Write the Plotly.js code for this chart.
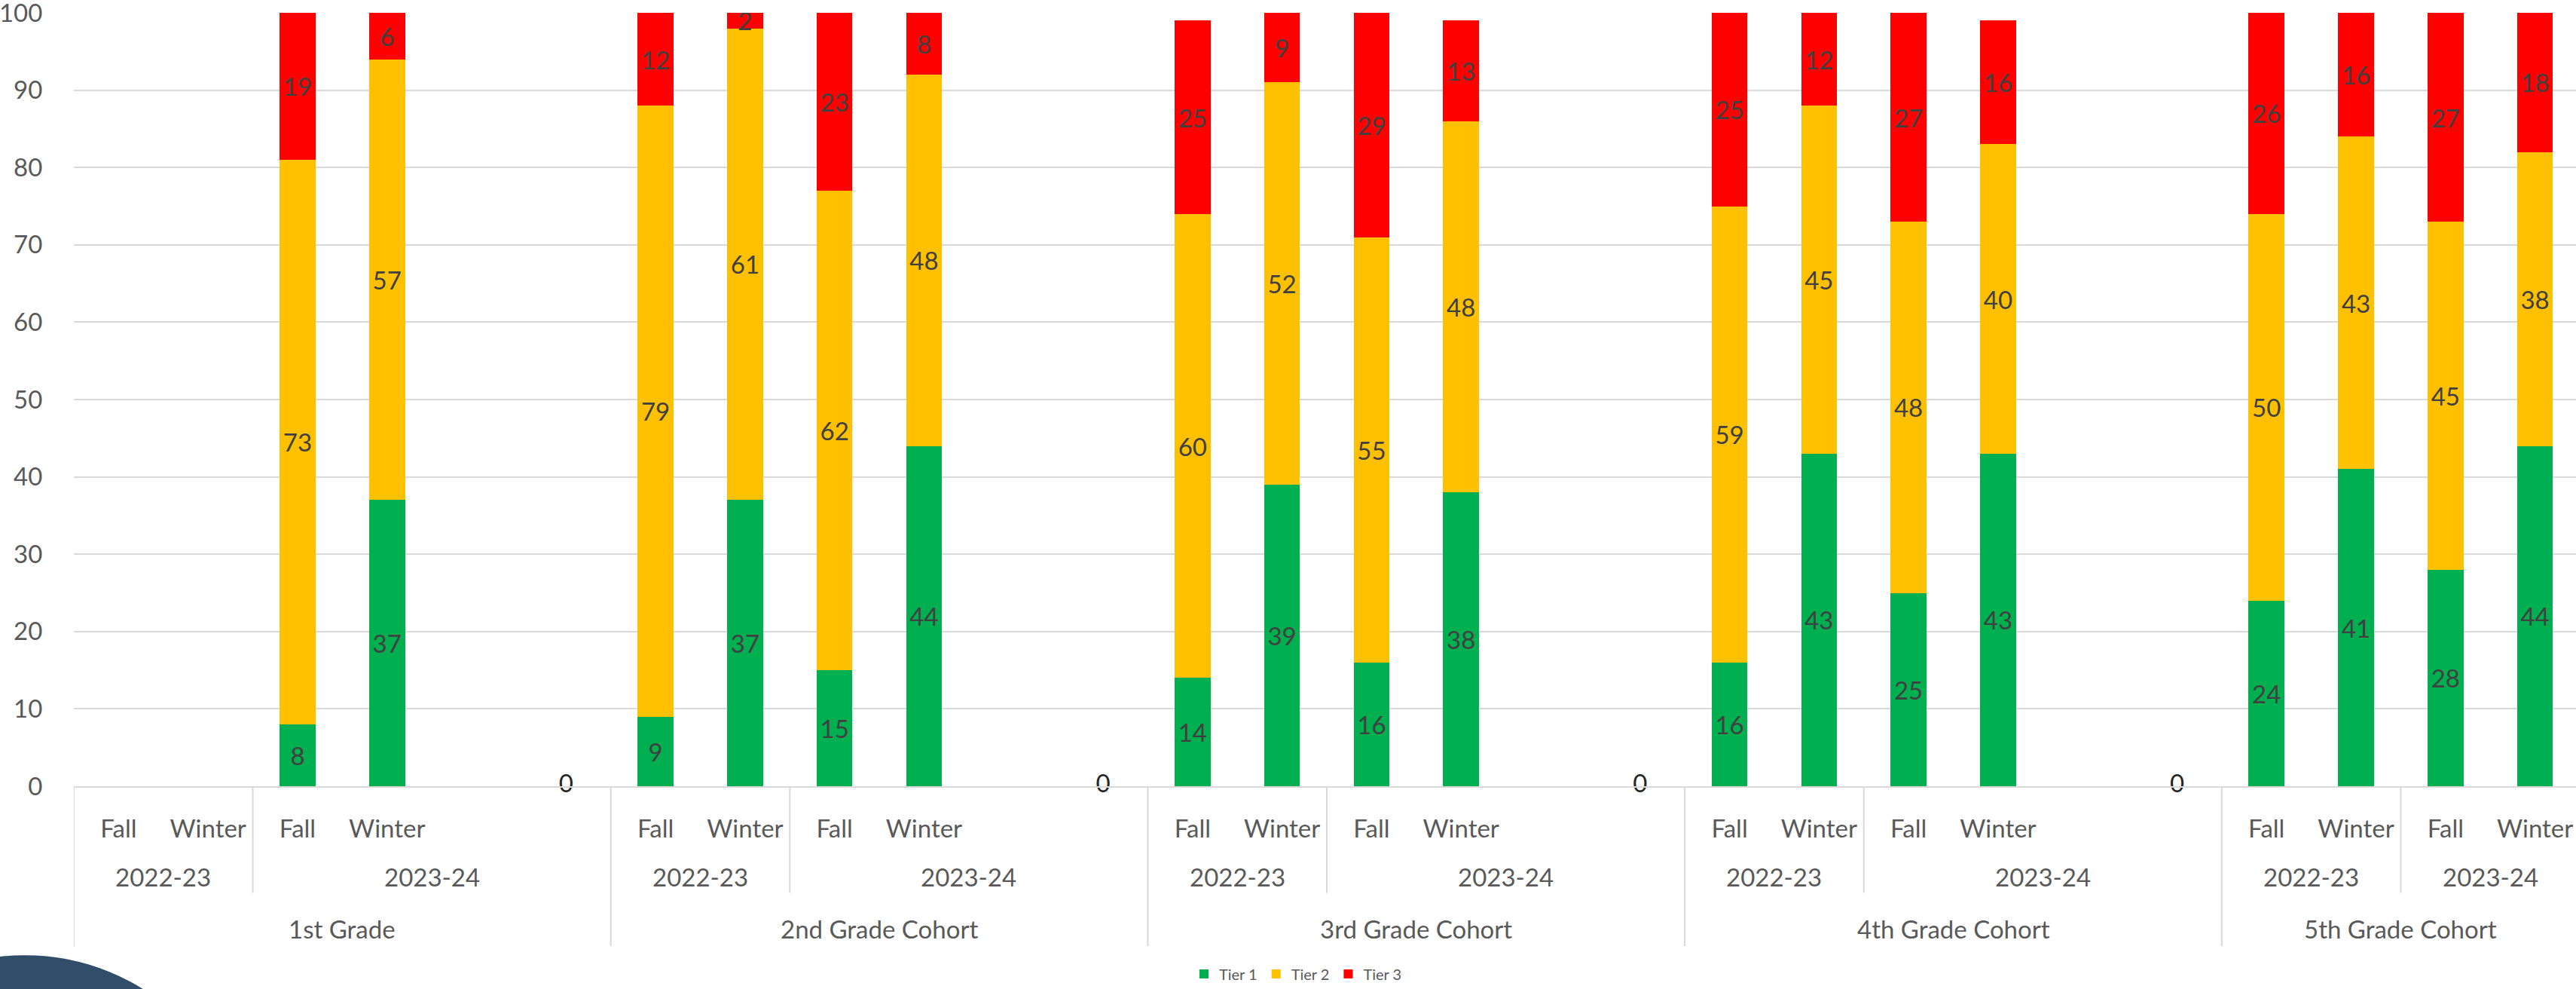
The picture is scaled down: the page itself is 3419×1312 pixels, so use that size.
<!DOCTYPE html>
<html>
<head>
<meta charset="utf-8">
<script src="https://cdn.plot.ly/plotly-3.0.1.min.js"></script>
<style>
  html, body { margin: 0; padding: 0; overflow: hidden; background: #ffffff; }
  #chart { width: 3424px; height: 1312px; }
</style>
</head>
<body>
<div id="chart"></div>
<script>
// ---- Data ----
const groups = ['1st Grade', '2nd Grade Cohort', '3rd Grade Cohort', '4th Grade Cohort', '5th Grade Cohort'];
const years = ['2022-23', '2023-24'];
const seasons = ['Fall', 'Winter'];
const seriesNames = ['Tier 1', 'Tier 2', 'Tier 3'];
const seriesColors = ['#00B050', '#FFC000', '#FF0000'];

// order: group -> year -> season (5 x 2 x 2 = 20 points)
const tier1 = [null, null, 8, 37,   9, 37, 15, 44,   14, 39, 16, 38,   16, 43, 25, 43,   24, 41, 28, 44];
const tier2 = [null, null, 73, 57,  79, 61, 62, 48,  60, 52, 55, 48,   59, 45, 48, 40,   50, 43, 45, 38];
const tier3 = [null, null, 19, 6,   12, 2, 23, 8,    25, 9, 29, 13,    25, 12, 27, 16,   26, 16, 27, 18];

// empty spacer slots after each group except the last (second spacer carries a 0 label)
const spacerValues = [0, 0, 0, 0];

// ---- Build categories ----
const catKeys = [];
const catText = [];
const dataKeys = [];
const spacerKeys = [];
const groupSpans = [];
const yearSpans = [];
groups.forEach((g, gi) => {
  const gStart = catKeys.length;
  years.forEach((y, yi) => {
    const yStart = catKeys.length;
    seasons.forEach(s => {
      const k = g + '|' + y + '|' + s;
      catKeys.push(k); catText.push(s); dataKeys.push(k);
    });
    if (yi === years.length - 1 && gi < groups.length - 1) {
      ['gap1', 'gap2'].forEach(gp => {
        const k = g + '|' + y + '|' + gp;
        catKeys.push(k); catText.push('');
        if (gp === 'gap2') spacerKeys.push(k);
      });
    }
    yearSpans.push({label: y, start: yStart, end: catKeys.length - 1});
  });
  groupSpans.push({label: g, start: gStart, end: catKeys.length - 1});
});

const FS = 33;
const FONT = 'Lato, sans-serif';

const tiers = [tier1, tier2, tier3];
const traces = tiers.map((vals, i) => ({
  type: 'bar',
  name: seriesNames[i],
  x: dataKeys,
  y: vals,
  width: 0.4,
  marker: {color: seriesColors[i], line: {width: 0}},
  text: vals.map(v => v == null ? '' : String(v)),
  textposition: 'inside',
  insidetextanchor: 'middle',
  constraintext: 'none',
  textangle: 0,
  textfont: {family: FONT, size: FS, color: '#404040'},
  hoverinfo: 'skip'
}));

traces.push({
  type: 'scatter',
  mode: 'text',
  x: spacerKeys,
  y: spacerValues,
  text: spacerValues.map(v => String(v)),
  textposition: 'middle center',
  textfont: {family: FONT, size: FS, color: '#262626'},
  cliponaxis: false,
  showlegend: false,
  hoverinfo: 'skip'
});

// ---- Axis label annotations and separators ----
const plotTopPx = 17, plotBottomPx = 1047, plotH = 1030;
const py = px => (plotBottomPx - px) / plotH;

const annotations = [];
yearSpans.forEach(s => {
  annotations.push({
    xref: 'x', yref: 'paper', x: (s.start + s.end) / 2, y: py(1167),
    text: s.label, showarrow: false, xanchor: 'center', yanchor: 'middle',
    font: {family: FONT, size: FS, color: '#595959'}
  });
});
groupSpans.forEach(s => {
  annotations.push({
    xref: 'x', yref: 'paper', x: (s.start + s.end) / 2, y: py(1237),
    text: s.label, showarrow: false, xanchor: 'center', yanchor: 'middle',
    font: {family: FONT, size: FS, color: '#595959'}
  });
});

const shapes = [];
groupSpans.forEach(s => {
  shapes.push({type: 'line', xref: 'x', yref: 'paper', x0: s.start - 0.5, x1: s.start - 0.5,
    y0: 0, y1: py(1260), line: {color: '#d9d9d9', width: 2}});
});
yearSpans.forEach(s => {
  const gs = groupSpans.find(g => g.start === s.start);
  if (!gs) {
    shapes.push({type: 'line', xref: 'x', yref: 'paper', x0: s.start - 0.5, x1: s.start - 0.5,
      y0: 0, y1: py(1189), line: {color: '#d9d9d9', width: 2}});
  }
});
// decorative slide circle at bottom-left
const L = 98, W = 3326;
const pxx = px => (px - L) / W;
shapes.push({type: 'circle', xref: 'paper', yref: 'paper', layer: 'above',
  x0: pxx(33 - 295), x1: pxx(33 + 295), y0: py(1272), y1: py(1272 + 590),
  fillcolor: '#314D6A', line: {width: 0}});

const layout = {
  width: 3424,
  height: 1312,
  margin: {l: L, r: 0, t: plotTopPx, b: 1312 - plotBottomPx, pad: 0},
  paper_bgcolor: '#ffffff',
  plot_bgcolor: '#ffffff',
  barmode: 'stack',
  font: {family: FONT, color: '#595959'},
  xaxis: {
    type: 'category',
    categoryorder: 'array',
    categoryarray: catKeys,
    range: [-0.5, catKeys.length - 0.5],
    tickmode: 'array',
    tickvals: catKeys,
    ticktext: catText,
    tickangle: 0,
    ticks: 'outside',
    ticklen: 26,
    tickcolor: 'rgba(0,0,0,0)',
    tickfont: {family: FONT, size: FS, color: '#595959'},
    showgrid: false,
    showline: true,
    linecolor: '#d9d9d9',
    linewidth: 2,
    zeroline: false,
    fixedrange: true
  },
  yaxis: {
    range: [0, 100],
    dtick: 10,
    tick0: 0,
    showgrid: true,
    gridcolor: '#d9d9d9',
    gridwidth: 2,
    zeroline: false,
    showline: false,
    ticks: 'outside',
    ticklen: 34,
    tickcolor: 'rgba(0,0,0,0)',
    ticklabeloverflow: 'allow',
    tickfont: {family: FONT, size: FS, color: '#595959'},
    fixedrange: true
  },
  showlegend: true,
  legend: {
    orientation: 'h',
    x: pxx(1722),
    xanchor: 'center',
    y: py(1297),
    yanchor: 'middle',
    font: {family: FONT, size: 20, color: '#595959'},
    traceorder: 'normal',
    bgcolor: 'rgba(0,0,0,0)'
  },
  annotations: annotations,
  shapes: shapes
};

Plotly.newPlot('chart', traces, layout, {staticPlot: true, displayModeBar: false});
</script>
</body>
</html>
